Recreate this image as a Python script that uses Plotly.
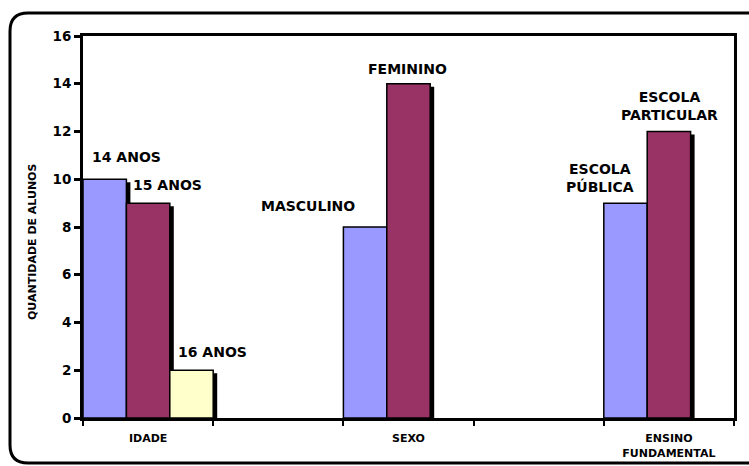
import plotly.graph_objects as go

# Category slots along the x axis (blank slots separate the groups)
slots = ["IDADE", " ", "SEXO", "  ", "ENSINO<br>FUNDAMENTAL"]
groups = ["IDADE", "SEXO", "ENSINO<br>FUNDAMENTAL"]

# Series values per group
blue_names = ["14 ANOS", "MASCULINO", "ESCOLA<br>PÚBLICA"]
blue_vals = [10, 8, 9]
red_names = ["15 ANOS", "FEMININO", "ESCOLA<br>PARTICULAR"]
red_vals = [9, 14, 12]
yellow_names = ["16 ANOS"]
yellow_vals = [2]
yellow_groups = ["IDADE"]

y_ticks = [0, 2, 4, 6, 8, 10, 12, 14, 16]

FONT = "DejaVu Sans"
colors = ["#9999FF", "#993366", "#FFFFCC"]

series = [
    (groups, blue_vals, blue_names),
    (groups, red_vals, red_names),
    (yellow_groups, yellow_vals, yellow_names),
]

# plot-area geometry in pixels, used to size the drop shadows
W, H = 749, 466
ML, MR, MT, MB = 83, 15, 36, 48
pw = W - ML - MR
ph = H - MT - MB
ymax = 16
px_x = len(slots) / pw          # category units per pixel
px_y = ymax / ph                # value units per pixel

fig = go.Figure()

# drop shadows first, so the coloured bars sit on top
for i, (xs, vals, _) in enumerate(series):
    fig.add_trace(go.Bar(
        x=xs, y=[v - 3 * px_y for v in vals],
        width=1 / 3, offset=-0.5 + i / 3 + 4 * px_x,
        marker=dict(color="black", line=dict(width=0)),
        hoverinfo="skip", showlegend=False,
    ))

for i, (xs, vals, names) in enumerate(series):
    fig.add_trace(go.Bar(
        x=xs, y=vals, name=names[0],
        width=1 / 3, offset=-0.5 + i / 3,
        marker=dict(color=colors[i], line=dict(color="black", width=1.5)),
        showlegend=False,
    ))

# series-name labels above the bars
shifts = [
    [(22, 22), (-57, 21), (-26, 25)],
    [(19, 18), (-1, 15), (1, 26)],
    [(21, 18)],
]
annotations = []
for i, (xs, vals, names) in enumerate(series):
    for j, (g, v, n) in enumerate(zip(xs, vals, names)):
        xc = slots.index(g) - 0.5 + (i + 0.5) / 3
        dx, dy = shifts[i][j]
        annotations.append(dict(
            x=xc, y=v, xref="x", yref="y", text=n, showarrow=False,
            xshift=dx, yshift=dy, xanchor="center", yanchor="middle",
            font=dict(family=FONT, size=14, color="black", weight="bold"),
        ))

# vertical axis title
annotations.append(dict(
    x=(33 - ML) / pw, y=(H - MB - 242) / ph, xref="paper", yref="paper",
    text="QUANTIDADE DE ALUNOS", textangle=-90, showarrow=False,
    xanchor="center", yanchor="middle",
    font=dict(family=FONT, size=11, color="black", weight="bold"),
))

# rounded outer frame of the chart
def px2paper(x, y):
    return (x - ML) / pw, (H - MB - y) / ph

x0, y0, x1, y1, r = 10, 13, 770, 463, 18
pts = {
    "a": px2paper(x0, y0 + r), "b": px2paper(x0, y0), "c": px2paper(x0 + r, y0),
    "d": px2paper(x1 - r, y0), "e": px2paper(x1, y0), "f": px2paper(x1, y0 + r),
    "g": px2paper(x1, y1 - r), "h": px2paper(x1, y1), "i": px2paper(x1 - r, y1),
    "j": px2paper(x0 + r, y1), "k": px2paper(x0, y1), "l": px2paper(x0, y1 - r),
}
fmt = lambda p: f"{p[0]:.5f},{p[1]:.5f}"
path = (f"M {fmt(pts['a'])} Q {fmt(pts['b'])} {fmt(pts['c'])} L {fmt(pts['d'])} "
        f"Q {fmt(pts['e'])} {fmt(pts['f'])} L {fmt(pts['g'])} "
        f"Q {fmt(pts['h'])} {fmt(pts['i'])} L {fmt(pts['j'])} "
        f"Q {fmt(pts['k'])} {fmt(pts['l'])} Z")

fig.update_layout(
    width=W, height=H,
    margin=dict(l=ML, r=MR, t=MT, b=MB, autoexpand=False),
    paper_bgcolor="white", plot_bgcolor="white",
    barmode="overlay",
    annotations=annotations,
    shapes=[dict(type="path", path=path, xref="paper", yref="paper",
                 line=dict(color="black", width=3), layer="below")],
    xaxis=dict(
        type="category", categoryorder="array", categoryarray=slots,
        range=[-0.5, len(slots) - 0.5], automargin=False,
        tickson="boundaries", ticks="outside", ticklen=5, tickwidth=2,
        tickcolor="black", ticklabelstandoff=8,
        showline=True, linecolor="black", linewidth=3, mirror=True,
        showgrid=False, zeroline=False,
        tickfont=dict(family=FONT, size=11, color="black", weight="bold"),
    ),
    yaxis=dict(
        range=[0, ymax], tickvals=y_ticks, automargin=False,
        ticks="outside", ticklen=6, tickwidth=3, tickcolor="black",
        showline=True, linecolor="black", linewidth=3, mirror=True,
        showgrid=False, zeroline=False,
        tickfont=dict(family=FONT, size=13.5, color="black", weight="bold"),
    ),
)

fig.write_html("out.html")
